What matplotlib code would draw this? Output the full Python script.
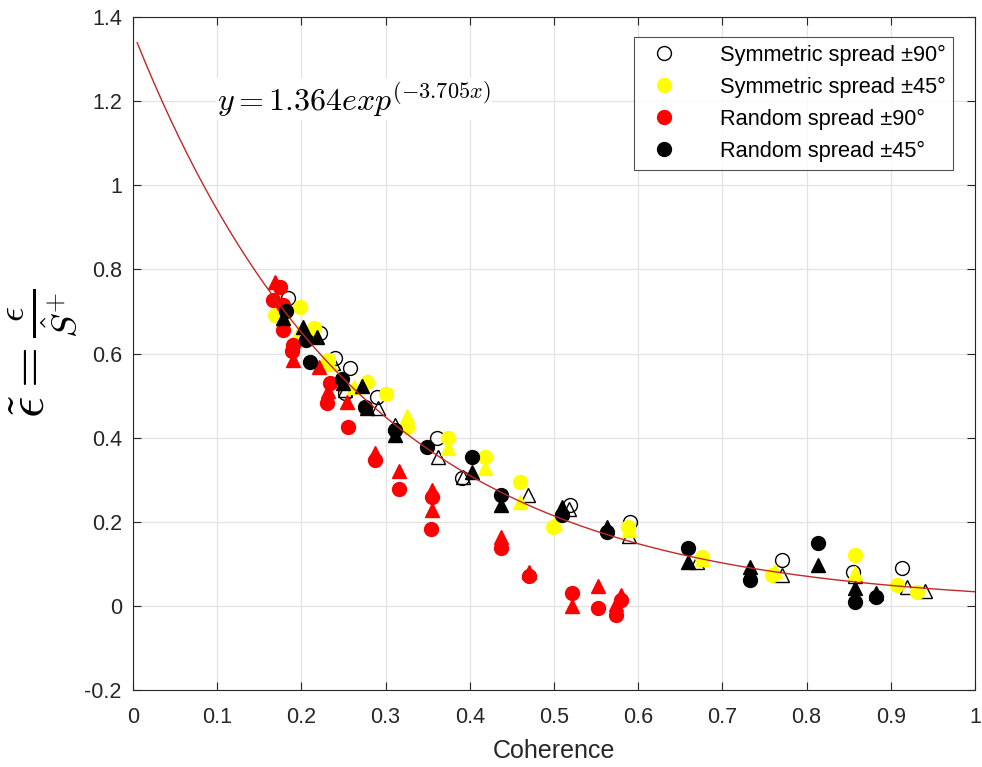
import numpy as np
import matplotlib
matplotlib.use("Agg")
import matplotlib.pyplot as plt

plt.rcParams['font.family'] = ['Liberation Sans', 'DejaVu Sans']
plt.rcParams['mathtext.fontset'] = 'cm'

# ---- data ----
# Symmetric spread ±90 (open)
sym90_circ_x = [0.184, 0.222, 0.240, 0.258, 0.252, 0.290, 0.361, 0.391, 0.519, 0.590, 0.771, 0.855, 0.913]
sym90_circ_y = [0.732, 0.648, 0.590, 0.565, 0.505, 0.497, 0.400, 0.303, 0.240, 0.200, 0.109, 0.081, 0.090]
sym90_tri_x = [0.238, 0.252, 0.291, 0.311, 0.362, 0.392, 0.469, 0.518, 0.589, 0.670, 0.771, 0.857, 0.919, 0.940]
sym90_tri_y = [0.577, 0.513, 0.470, 0.430, 0.354, 0.307, 0.264, 0.230, 0.165, 0.105, 0.074, 0.070, 0.045, 0.035]

# Symmetric spread ±45 (yellow)
sym45_circ_x = [0.169, 0.198, 0.215, 0.232, 0.278, 0.301, 0.325, 0.374, 0.418, 0.460, 0.499, 0.588, 0.676, 0.759, 0.857, 0.907, 0.931]
sym45_circ_y = [0.691, 0.710, 0.660, 0.584, 0.532, 0.503, 0.425, 0.400, 0.354, 0.294, 0.188, 0.188, 0.117, 0.074, 0.121, 0.050, 0.033]
sym45_tri_x = [0.178, 0.196, 0.234, 0.262, 0.325, 0.374, 0.418, 0.460, 0.501, 0.589, 0.676, 0.762, 0.857]
sym45_tri_y = [0.690, 0.648, 0.575, 0.520, 0.452, 0.375, 0.328, 0.247, 0.198, 0.180, 0.112, 0.082, 0.078]

# Random spread ±90 (red)
rnd90_circ_x = [0.175, 0.166, 0.178, 0.178, 0.190, 0.189, 0.234, 0.230, 0.255, 0.287, 0.316, 0.355, 0.354, 0.437, 0.470, 0.521, 0.552, 0.580, 0.574]
rnd90_circ_y = [0.758, 0.727, 0.715, 0.656, 0.620, 0.605, 0.530, 0.482, 0.425, 0.347, 0.278, 0.260, 0.183, 0.138, 0.070, 0.030, -0.005, 0.014, -0.022]
rnd90_tri_x = [0.169, 0.190, 0.221, 0.232, 0.254, 0.287, 0.316, 0.355, 0.355, 0.437, 0.470, 0.521, 0.552, 0.580, 0.574]
rnd90_tri_y = [0.770, 0.584, 0.568, 0.510, 0.485, 0.363, 0.321, 0.275, 0.228, 0.164, 0.080, 0.000, 0.047, 0.026, 0.005]

# Random spread ±45 (black)
rnd45_circ_x = [0.182, 0.206, 0.210, 0.248, 0.276, 0.311, 0.349, 0.403, 0.437, 0.510, 0.563, 0.659, 0.733, 0.814, 0.857, 0.882]
rnd45_circ_y = [0.700, 0.632, 0.580, 0.540, 0.473, 0.418, 0.378, 0.354, 0.264, 0.216, 0.176, 0.138, 0.062, 0.150, 0.010, 0.022]
rnd45_tri_x = [0.178, 0.202, 0.218, 0.250, 0.272, 0.278, 0.311, 0.403, 0.437, 0.510, 0.563, 0.659, 0.733, 0.814, 0.857, 0.882]
rnd45_tri_y = [0.684, 0.663, 0.640, 0.530, 0.522, 0.470, 0.406, 0.318, 0.240, 0.235, 0.188, 0.105, 0.093, 0.097, 0.043, 0.030]

fit_a = 1.364
fit_b = -3.705

xticks = [0, 0.1, 0.2, 0.3, 0.4, 0.5, 0.6, 0.7, 0.8, 0.9, 1]
xticklabels = ['0', '0.1', '0.2', '0.3', '0.4', '0.5', '0.6', '0.7', '0.8', '0.9', '1']
yticks = [-0.2, 0, 0.2, 0.4, 0.6, 0.8, 1, 1.2, 1.4]
yticklabels = ['-0.2', '0', '0.2', '0.4', '0.6', '0.8', '1', '1.2', '1.4']

labels = ['Symmetric spread \u00b190\u00b0', 'Symmetric spread \u00b145\u00b0',
          'Random spread \u00b190\u00b0', 'Random spread \u00b145\u00b0']

# ---- figure ----
fig = plt.figure(figsize=(9.82, 7.67), dpi=100)
ax = fig.add_axes([0.1354, 0.1004, 0.8575, 0.8774])

ms = 10
series = [
    (sym90_circ_x, sym90_circ_y, sym90_tri_x, sym90_tri_y, 'none', 'black'),
    (sym45_circ_x, sym45_circ_y, sym45_tri_x, sym45_tri_y, '#ffff00', '#ffff00'),
    (rnd90_circ_x, rnd90_circ_y, rnd90_tri_x, rnd90_tri_y, '#ff0000', '#ff0000'),
    (rnd45_circ_x, rnd45_circ_y, rnd45_tri_x, rnd45_tri_y, 'black', 'black'),
]
handles = []
for (cx, cy, tx, ty, fc, ec), lab in zip(series, labels):
    h, = ax.plot(cx, cy, 'o', ms=ms, mfc=fc, mec=ec, mew=1.0, linestyle='none', label=lab)
    ax.plot(tx, ty, '^', ms=ms, mfc=fc, mec=ec, mew=1.0, linestyle='none')
    handles.append(h)

xf = np.linspace(0.005, 1.0, 300)
ax.plot(xf, fit_a * np.exp(fit_b * xf), color='#c0282a', lw=1.0, zorder=5)

ax.set_xlim(0, 1)
ax.set_ylim(-0.2, 1.4)
ax.set_xticks(xticks)
ax.set_xticklabels(xticklabels)
ax.set_yticks(yticks)
ax.set_yticklabels(yticklabels)
ax.tick_params(direction='in', top=True, right=True, labelsize=15.5, colors='#262626', length=6)
ax.tick_params(axis='x', pad=12)
ax.tick_params(axis='y', pad=8)
ax.grid(True, color='#e3e3e3', lw=0.9)
ax.set_axisbelow(True)
for s in ax.spines.values():
    s.set_color('#262626')
    s.set_linewidth(0.8)

ax.set_xlabel('Coherence', fontsize=18, color='#262626', labelpad=8)
ax.set_ylabel(r'$\tilde{\epsilon} = \frac{\epsilon}{\hat{S}^{+}}$', fontsize=38, labelpad=4)

ax.text(0.1, 1.205, r'$y = 1.364exp^{(-3.705x)}$', fontsize=23, ha='left', va='center',
        bbox=dict(facecolor='white', edgecolor='none', pad=1), zorder=6)

leg = ax.legend(handles=handles, loc='upper right', fontsize=15.7, frameon=True, fancybox=False,
                edgecolor='#262626', borderpad=0.35, labelspacing=0.5, handletextpad=1.5,
                handlelength=2.1, borderaxespad=0, bbox_to_anchor=(0.974, 0.970))
leg.get_frame().set_linewidth(0.8)

fig.savefig('out.png', dpi=100)
